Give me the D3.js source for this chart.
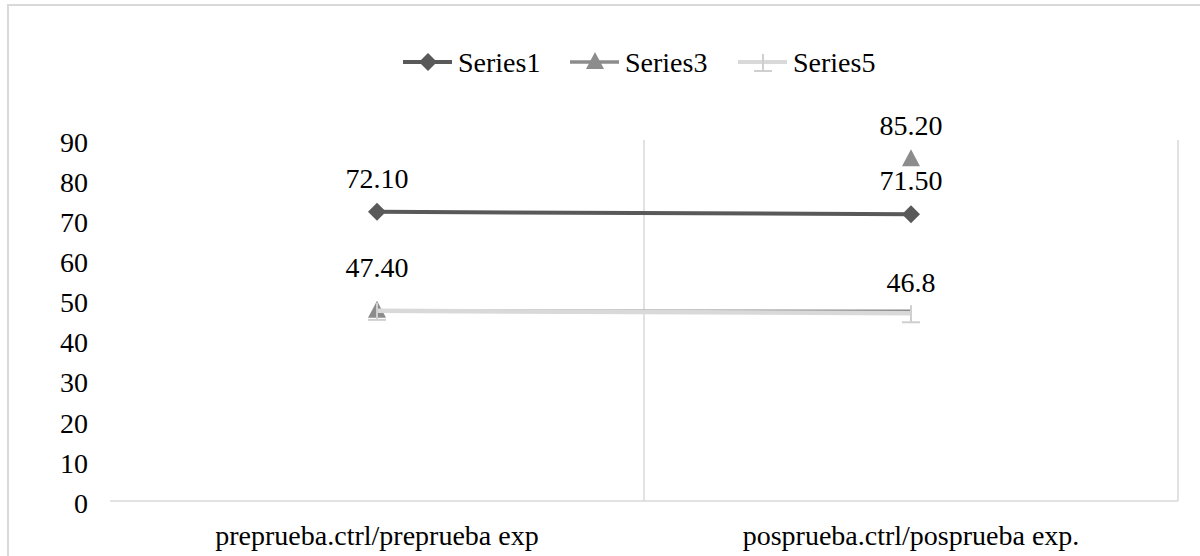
<!DOCTYPE html>
<html>
<head>
<meta charset="utf-8">
<script src="https://cdn.jsdelivr.net/npm/d3@7"></script>
<style>
  body { margin: 0; background: #fff; }
</style>
</head>
<body>
<svg id="chart" width="1200" height="556"></svg>
<script>
var categories = ["preprueba.ctrl/preprueba exp", "posprueba.ctrl/posprueba exp."];
var yTicks = [0, 10, 20, 30, 40, 50, 60, 70, 80, 90];

var series1 = [72.1, 71.5];
var series3Line = [47.4, 47.4];
var series3Markers = [47.4, 85.2];
var series5 = [47.4, 46.8];

var legendNames = ["Series1", "Series3", "Series5"];

var labels1 = ["72.10", "71.50"];
var labels3 = ["47.40", "85.20"];
var labels5 = [null, "46.8"];

var svg = d3.select("#chart");
var fontSize = 28;

var x = d3.scaleBand()
    .domain(categories)
    .range([110, 1178])
    .padding(0);

var y = d3.scaleLinear()
    .domain([0, 90])
    .range([501, 140]);

function cx(i) { return x(categories[i]) + x.bandwidth() / 2; }

function txt(sel) {
    return sel.style("font-family", "'Liberation Serif'")
        .style("font-size", fontSize + "px")
        .style("fill", "#000");
}

// chart frame (cropped on right and bottom)
svg.append("path")
    .attr("d", "M8,560 L8,5 L1204,5")
    .attr("fill", "none")
    .attr("stroke", "#d9d9d9")
    .attr("stroke-width", 2);

// vertical gridlines between categories
svg.append("g").selectAll("line")
    .data(categories.slice(1).concat(["__end"]))
    .enter().append("line")
    .attr("x1", function(d) { return d === "__end" ? 1178 : x(d); })
    .attr("x2", function(d) { return d === "__end" ? 1178 : x(d); })
    .attr("y1", y(90))
    .attr("y2", y(0))
    .attr("stroke", "#d9d9d9")
    .attr("stroke-width", 1.5);

// category axis line
svg.append("line")
    .attr("x1", 110).attr("x2", 1178)
    .attr("y1", y(0)).attr("y2", y(0))
    .attr("stroke", "#d9d9d9")
    .attr("stroke-width", 1.5);

// y axis labels
txt(svg.append("g").selectAll("text")
    .data(yTicks)
    .enter().append("text")
    .attr("x", 88)
    .attr("y", function(d) { return y(d) + 2; })
    .attr("dy", "0.35em")
    .attr("text-anchor", "end"))
    .text(function(d) { return d; });

// category labels
txt(svg.append("g").selectAll("text")
    .data(categories)
    .enter().append("text")
    .attr("x", function(d) { return x(d) + x.bandwidth() / 2; })
    .attr("y", 535)
    .attr("dy", "0.35em")
    .attr("text-anchor", "middle"))
    .text(function(d) { return d; });

var line = d3.line()
    .x(function(d, i) { return cx(i); })
    .y(function(d) { return y(d); });

function diamond(g, px, py, color) {
    g.append("path")
        .attr("d", "M" + px + "," + (py - 9) + " L" + (px + 9) + "," + py +
            " L" + px + "," + (py + 9) + " L" + (px - 9) + "," + py + " Z")
        .attr("fill", color);
}
function triangle(g, px, py, color) {
    g.append("path")
        .attr("d", "M" + px + "," + (py - 10) + " L" + (px + 9) + "," + (py + 7) +
            " L" + (px - 9) + "," + (py + 7) + " Z")
        .attr("fill", color);
}
function tee(g, px, py, color) {
    g.append("line")
        .attr("x1", px).attr("x2", px)
        .attr("y1", py - 8).attr("y2", py + 9)
        .attr("stroke", color).attr("stroke-width", 2);
    g.append("line")
        .attr("x1", px - 9).attr("x2", px + 9)
        .attr("y1", py + 9).attr("y2", py + 9)
        .attr("stroke", color).attr("stroke-width", 2);
}

var c1 = "#595959", c3 = "#8c8c8c", c5 = "#d9d9d9";

// Series1
var g1 = svg.append("g");
g1.append("path").datum(series1)
    .attr("d", line).attr("fill", "none")
    .attr("stroke", c1).attr("stroke-width", 4);
series1.forEach(function(v, i) { diamond(g1, cx(i), y(v), c1); });

// Series3
var g3 = svg.append("g");
g3.append("path").datum(series3Line)
    .attr("d", line).attr("fill", "none")
    .attr("stroke", c3).attr("stroke-width", 2.5);
series3Markers.forEach(function(v, i) { triangle(g3, cx(i), y(v), c3); });

// Series5
var g5 = svg.append("g");
g5.append("path").datum(series5)
    .attr("d", line).attr("fill", "none")
    .attr("stroke", c5).attr("stroke-width", 4.5);
series5.forEach(function(v, i) { tee(g5, cx(i), y(v), "#cfcfcf"); });

// data labels
function addLabels(vals, texts, off) {
    var idx = d3.range(texts.length).filter(function(i) { return texts[i] !== null; });
    txt(svg.append("g").selectAll("text")
        .data(idx)
        .enter().append("text")
        .attr("x", function(i) { return cx(i); })
        .attr("y", function(i) { return y(vals[i]) - off(i); })
        .attr("dy", "0.35em")
        .attr("text-anchor", "middle"))
        .text(function(i) { return texts[i]; });
}
addLabels(series1, labels1, function() { return 34; });
addLabels(series3Markers, labels3, function(i) { return i === 0 ? 44 : 34; });
addLabels(series5, labels5, function() { return 31; });

// legend
var legend = svg.append("g");
var legendX = [403, 570, 738];
var legendY = 62;
legendNames.forEach(function(name, k) {
    var lx = legendX[k];
    var color = [c1, c3, c5][k];
    legend.append("line")
        .attr("x1", lx).attr("x2", lx + 49)
        .attr("y1", legendY).attr("y2", legendY)
        .attr("stroke", color).attr("stroke-width", k === 1 ? 3.5 : 4);
    var mx = lx + 25;
    if (k === 0) diamond(legend, mx, legendY, color);
    if (k === 1) triangle(legend, mx, legendY, color);
    if (k === 2) tee(legend, mx, legendY, "#cfcfcf");
    txt(legend.append("text")
        .attr("x", lx + 55)
        .attr("y", legendY)
        .attr("dy", "0.35em"))
        .text(name);
});
</script>
</body>
</html>
